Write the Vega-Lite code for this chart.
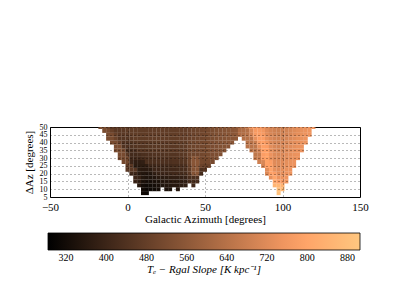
{
"$schema":"https://vega.github.io/schema/vega-lite/v6.json",
"width":310,"height":70,
"autosize":{"type":"none"},
"padding":{"left":50,"top":127,"right":40,"bottom":103},
"background":"white",
"config":{"view":{"stroke":"#000","strokeWidth":1},"font":"Liberation Serif"},
"data":{"values":[
{"a":10,"d":7.5,"v":315},{"a":12.5,"d":7.5,"v":310},
{"a":10,"d":10,"v":325},{"a":12.5,"d":10,"v":310},{"a":15,"d":10,"v":315},{"a":17.5,"d":10,"v":320},{"a":20,"d":10,"v":330},{"a":25,"d":10,"v":340},{"a":27.5,"d":10,"v":345},{"a":32.5,"d":10,"v":360},
{"a":7.5,"d":12.5,"v":360},{"a":10,"d":12.5,"v":325},{"a":12.5,"d":12.5,"v":315},{"a":15,"d":12.5,"v":320},{"a":17.5,"d":12.5,"v":325},{"a":20,"d":12.5,"v":335},{"a":22.5,"d":12.5,"v":345},{"a":25,"d":12.5,"v":350},{"a":27.5,"d":12.5,"v":355},{"a":30,"d":12.5,"v":360},{"a":32.5,"d":12.5,"v":360},{"a":35,"d":12.5,"v":370},{"a":37.5,"d":12.5,"v":380},{"a":42.5,"d":12.5,"v":410},
{"a":5,"d":15,"v":400},{"a":7.5,"d":15,"v":380},{"a":10,"d":15,"v":345},{"a":12.5,"d":15,"v":335},{"a":15,"d":15,"v":335},{"a":17.5,"d":15,"v":340},{"a":20,"d":15,"v":345},{"a":22.5,"d":15,"v":360},{"a":25,"d":15,"v":360},{"a":27.5,"d":15,"v":365},{"a":30,"d":15,"v":370},{"a":32.5,"d":15,"v":370},{"a":35,"d":15,"v":375},{"a":37.5,"d":15,"v":380},{"a":40,"d":15,"v":420},{"a":42.5,"d":15,"v":420},{"a":45,"d":15,"v":425},
{"a":5,"d":17.5,"v":400},{"a":7.5,"d":17.5,"v":390},{"a":10,"d":17.5,"v":355},{"a":12.5,"d":17.5,"v":345},{"a":15,"d":17.5,"v":345},{"a":17.5,"d":17.5,"v":350},{"a":20,"d":17.5,"v":365},{"a":22.5,"d":17.5,"v":365},{"a":25,"d":17.5,"v":370},{"a":27.5,"d":17.5,"v":375},{"a":30,"d":17.5,"v":380},{"a":32.5,"d":17.5,"v":380},{"a":35,"d":17.5,"v":385},{"a":37.5,"d":17.5,"v":390},{"a":40,"d":17.5,"v":425},{"a":42.5,"d":17.5,"v":430},{"a":45,"d":17.5,"v":435},
{"a":2.5,"d":20,"v":410},{"a":5,"d":20,"v":400},{"a":7.5,"d":20,"v":365},{"a":10,"d":20,"v":355},{"a":12.5,"d":20,"v":350},{"a":15,"d":20,"v":355},{"a":17.5,"d":20,"v":380},{"a":20,"d":20,"v":395},{"a":22.5,"d":20,"v":400},{"a":25,"d":20,"v":400},{"a":27.5,"d":20,"v":405},{"a":30,"d":20,"v":410},{"a":32.5,"d":20,"v":410},{"a":35,"d":20,"v":415},{"a":37.5,"d":20,"v":420},{"a":40,"d":20,"v":460},{"a":42.5,"d":20,"v":540},{"a":45,"d":20,"v":550},{"a":47.5,"d":20,"v":420},
{"a":0,"d":22.5,"v":460},{"a":2.5,"d":22.5,"v":460},{"a":5,"d":22.5,"v":450},{"a":7.5,"d":22.5,"v":370},{"a":10,"d":22.5,"v":365},{"a":12.5,"d":22.5,"v":365},{"a":15,"d":22.5,"v":370},{"a":17.5,"d":22.5,"v":400},{"a":20,"d":22.5,"v":400},{"a":22.5,"d":22.5,"v":405},{"a":25,"d":22.5,"v":405},{"a":27.5,"d":22.5,"v":410},{"a":30,"d":22.5,"v":410},{"a":32.5,"d":22.5,"v":415},{"a":35,"d":22.5,"v":420},{"a":37.5,"d":22.5,"v":425},{"a":40,"d":22.5,"v":470},{"a":42.5,"d":22.5,"v":540},{"a":45,"d":22.5,"v":550},{"a":47.5,"d":22.5,"v":430},{"a":50,"d":22.5,"v":450},
{"a":0,"d":25,"v":465},{"a":2.5,"d":25,"v":460},{"a":5,"d":25,"v":370},{"a":7.5,"d":25,"v":370},{"a":10,"d":25,"v":370},{"a":12.5,"d":25,"v":375},{"a":15,"d":25,"v":405},{"a":17.5,"d":25,"v":405},{"a":20,"d":25,"v":410},{"a":22.5,"d":25,"v":410},{"a":25,"d":25,"v":415},{"a":27.5,"d":25,"v":415},{"a":30,"d":25,"v":420},{"a":32.5,"d":25,"v":420},{"a":35,"d":25,"v":425},{"a":37.5,"d":25,"v":430},{"a":40,"d":25,"v":480},{"a":42.5,"d":25,"v":545},{"a":45,"d":25,"v":550},{"a":47.5,"d":25,"v":490},{"a":50,"d":25,"v":480},{"a":52.5,"d":25,"v":490},
{"a":-2.5,"d":27.5,"v":510},{"a":0,"d":27.5,"v":505},{"a":2.5,"d":27.5,"v":400},{"a":5,"d":27.5,"v":375},{"a":7.5,"d":27.5,"v":375},{"a":10,"d":27.5,"v":380},{"a":12.5,"d":27.5,"v":430},{"a":15,"d":27.5,"v":430},{"a":17.5,"d":27.5,"v":430},{"a":20,"d":27.5,"v":430},{"a":22.5,"d":27.5,"v":435},{"a":25,"d":27.5,"v":435},{"a":27.5,"d":27.5,"v":435},{"a":30,"d":27.5,"v":440},{"a":32.5,"d":27.5,"v":440},{"a":35,"d":27.5,"v":445},{"a":37.5,"d":27.5,"v":450},{"a":40,"d":27.5,"v":495},{"a":42.5,"d":27.5,"v":550},{"a":45,"d":27.5,"v":555},{"a":47.5,"d":27.5,"v":510},{"a":50,"d":27.5,"v":505},{"a":52.5,"d":27.5,"v":510},{"a":55,"d":27.5,"v":515},
{"a":-5,"d":30,"v":510},{"a":-2.5,"d":30,"v":510},{"a":0,"d":30,"v":500},{"a":2.5,"d":30,"v":410},{"a":5,"d":30,"v":410},{"a":7.5,"d":30,"v":410},{"a":10,"d":30,"v":420},{"a":12.5,"d":30,"v":430},{"a":15,"d":30,"v":430},{"a":17.5,"d":30,"v":435},{"a":20,"d":30,"v":435},{"a":22.5,"d":30,"v":440},{"a":25,"d":30,"v":440},{"a":27.5,"d":30,"v":440},{"a":30,"d":30,"v":445},{"a":32.5,"d":30,"v":445},{"a":35,"d":30,"v":450},{"a":37.5,"d":30,"v":455},{"a":40,"d":30,"v":490},{"a":42.5,"d":30,"v":550},{"a":45,"d":30,"v":545},{"a":47.5,"d":30,"v":507},{"a":50,"d":30,"v":512},{"a":52.5,"d":30,"v":517},{"a":55,"d":30,"v":523},{"a":57.5,"d":30,"v":528},
{"a":-5,"d":32.5,"v":515},{"a":-2.5,"d":32.5,"v":515},{"a":0,"d":32.5,"v":460},{"a":2.5,"d":32.5,"v":415},{"a":5,"d":32.5,"v":415},{"a":7.5,"d":32.5,"v":420},{"a":10,"d":32.5,"v":430},{"a":12.5,"d":32.5,"v":435},{"a":15,"d":32.5,"v":435},{"a":17.5,"d":32.5,"v":440},{"a":20,"d":32.5,"v":440},{"a":22.5,"d":32.5,"v":440},{"a":25,"d":32.5,"v":445},{"a":27.5,"d":32.5,"v":445},{"a":30,"d":32.5,"v":445},{"a":32.5,"d":32.5,"v":450},{"a":35,"d":32.5,"v":455},{"a":37.5,"d":32.5,"v":460},{"a":40,"d":32.5,"v":490},{"a":42.5,"d":32.5,"v":496},{"a":45,"d":32.5,"v":501},{"a":47.5,"d":32.5,"v":507},{"a":50,"d":32.5,"v":512},{"a":52.5,"d":32.5,"v":517},{"a":55,"d":32.5,"v":523},{"a":57.5,"d":32.5,"v":528},{"a":60,"d":32.5,"v":534},
{"a":-7.5,"d":35,"v":520},{"a":-5,"d":35,"v":520},{"a":-2.5,"d":35,"v":510},{"a":0,"d":35,"v":420},{"a":2.5,"d":35,"v":420},{"a":5,"d":35,"v":425},{"a":7.5,"d":35,"v":450},{"a":10,"d":35,"v":450},{"a":12.5,"d":35,"v":450},{"a":15,"d":35,"v":452},{"a":17.5,"d":35,"v":452},{"a":20,"d":35,"v":455},{"a":22.5,"d":35,"v":455},{"a":25,"d":35,"v":455},{"a":27.5,"d":35,"v":458},{"a":30,"d":35,"v":460},{"a":32.5,"d":35,"v":460},{"a":35,"d":35,"v":462},{"a":37.5,"d":35,"v":465},{"a":40,"d":35,"v":490},{"a":42.5,"d":35,"v":496},{"a":45,"d":35,"v":501},{"a":47.5,"d":35,"v":507},{"a":50,"d":35,"v":512},{"a":52.5,"d":35,"v":517},{"a":55,"d":35,"v":523},{"a":57.5,"d":35,"v":528},{"a":60,"d":35,"v":534},{"a":62.5,"d":35,"v":540},
{"a":-7.5,"d":37.5,"v":520},{"a":-5,"d":37.5,"v":520},{"a":-2.5,"d":37.5,"v":440},{"a":0,"d":37.5,"v":440},{"a":2.5,"d":37.5,"v":440},{"a":5,"d":37.5,"v":445},{"a":7.5,"d":37.5,"v":450},{"a":10,"d":37.5,"v":450},{"a":12.5,"d":37.5,"v":452},{"a":15,"d":37.5,"v":452},{"a":17.5,"d":37.5,"v":455},{"a":20,"d":37.5,"v":455},{"a":22.5,"d":37.5,"v":458},{"a":25,"d":37.5,"v":458},{"a":27.5,"d":37.5,"v":460},{"a":30,"d":37.5,"v":460},{"a":32.5,"d":37.5,"v":462},{"a":35,"d":37.5,"v":464},{"a":37.5,"d":37.5,"v":466},{"a":40,"d":37.5,"v":490},{"a":42.5,"d":37.5,"v":496},{"a":45,"d":37.5,"v":501},{"a":47.5,"d":37.5,"v":507},{"a":50,"d":37.5,"v":512},{"a":52.5,"d":37.5,"v":517},{"a":55,"d":37.5,"v":523},{"a":57.5,"d":37.5,"v":528},{"a":60,"d":37.5,"v":534},{"a":62.5,"d":37.5,"v":540},{"a":65,"d":37.5,"v":545},
{"a":-10,"d":40,"v":520},{"a":-7.5,"d":40,"v":520},{"a":-5,"d":40,"v":480},{"a":-2.5,"d":40,"v":440},{"a":0,"d":40,"v":440},{"a":2.5,"d":40,"v":442},{"a":5,"d":40,"v":450},{"a":7.5,"d":40,"v":452},{"a":10,"d":40,"v":454},{"a":12.5,"d":40,"v":455},{"a":15,"d":40,"v":456},{"a":17.5,"d":40,"v":458},{"a":20,"d":40,"v":458},{"a":22.5,"d":40,"v":460},{"a":25,"d":40,"v":460},{"a":27.5,"d":40,"v":462},{"a":30,"d":40,"v":462},{"a":32.5,"d":40,"v":464},{"a":35,"d":40,"v":465},{"a":37.5,"d":40,"v":467},{"a":40,"d":40,"v":490},{"a":42.5,"d":40,"v":496},{"a":45,"d":40,"v":501},{"a":47.5,"d":40,"v":507},{"a":50,"d":40,"v":512},{"a":52.5,"d":40,"v":517},{"a":55,"d":40,"v":523},{"a":57.5,"d":40,"v":528},{"a":60,"d":40,"v":534},{"a":62.5,"d":40,"v":540},{"a":65,"d":40,"v":545},{"a":67.5,"d":40,"v":550},
{"a":-12.5,"d":42.5,"v":520},{"a":-10,"d":42.5,"v":520},{"a":-7.5,"d":42.5,"v":490},{"a":-5,"d":42.5,"v":450},{"a":-2.5,"d":42.5,"v":450},{"a":0,"d":42.5,"v":450},{"a":2.5,"d":42.5,"v":455},{"a":5,"d":42.5,"v":470},{"a":7.5,"d":42.5,"v":470},{"a":10,"d":42.5,"v":470},{"a":12.5,"d":42.5,"v":471},{"a":15,"d":42.5,"v":471},{"a":17.5,"d":42.5,"v":472},{"a":20,"d":42.5,"v":472},{"a":22.5,"d":42.5,"v":473},{"a":25,"d":42.5,"v":473},{"a":27.5,"d":42.5,"v":474},{"a":30,"d":42.5,"v":474},{"a":32.5,"d":42.5,"v":475},{"a":35,"d":42.5,"v":475},{"a":37.5,"d":42.5,"v":475},{"a":40,"d":42.5,"v":485},{"a":42.5,"d":42.5,"v":490},{"a":45,"d":42.5,"v":495},{"a":47.5,"d":42.5,"v":500},{"a":50,"d":42.5,"v":506},{"a":52.5,"d":42.5,"v":512},{"a":55,"d":42.5,"v":520},{"a":57.5,"d":42.5,"v":527},{"a":60,"d":42.5,"v":534},{"a":62.5,"d":42.5,"v":540},{"a":65,"d":42.5,"v":546},{"a":67.5,"d":42.5,"v":551},{"a":70,"d":42.5,"v":556},
{"a":-12.5,"d":45,"v":520},{"a":-10,"d":45,"v":515},{"a":-7.5,"d":45,"v":480},{"a":-5,"d":45,"v":460},{"a":-2.5,"d":45,"v":460},{"a":0,"d":45,"v":460},{"a":2.5,"d":45,"v":470},{"a":5,"d":45,"v":470},{"a":7.5,"d":45,"v":470},{"a":10,"d":45,"v":470},{"a":12.5,"d":45,"v":471},{"a":15,"d":45,"v":471},{"a":17.5,"d":45,"v":472},{"a":20,"d":45,"v":472},{"a":22.5,"d":45,"v":473},{"a":25,"d":45,"v":473},{"a":27.5,"d":45,"v":474},{"a":30,"d":45,"v":474},{"a":32.5,"d":45,"v":475},{"a":35,"d":45,"v":475},{"a":37.5,"d":45,"v":475},{"a":40,"d":45,"v":485},{"a":42.5,"d":45,"v":490},{"a":45,"d":45,"v":495},{"a":47.5,"d":45,"v":500},{"a":50,"d":45,"v":506},{"a":52.5,"d":45,"v":512},{"a":55,"d":45,"v":520},{"a":57.5,"d":45,"v":527},{"a":60,"d":45,"v":534},{"a":62.5,"d":45,"v":540},{"a":65,"d":45,"v":546},{"a":67.5,"d":45,"v":551},{"a":70,"d":45,"v":556},
{"a":-15,"d":47.5,"v":520},{"a":-12.5,"d":47.5,"v":515},{"a":-10,"d":47.5,"v":485},{"a":-7.5,"d":47.5,"v":460},{"a":-5,"d":47.5,"v":460},{"a":-2.5,"d":47.5,"v":460},{"a":0,"d":47.5,"v":465},{"a":2.5,"d":47.5,"v":470},{"a":5,"d":47.5,"v":470},{"a":7.5,"d":47.5,"v":470},{"a":10,"d":47.5,"v":470},{"a":12.5,"d":47.5,"v":471},{"a":15,"d":47.5,"v":471},{"a":17.5,"d":47.5,"v":472},{"a":20,"d":47.5,"v":472},{"a":22.5,"d":47.5,"v":473},{"a":25,"d":47.5,"v":473},{"a":27.5,"d":47.5,"v":474},{"a":30,"d":47.5,"v":474},{"a":32.5,"d":47.5,"v":475},{"a":35,"d":47.5,"v":475},{"a":37.5,"d":47.5,"v":475},{"a":40,"d":47.5,"v":485},{"a":42.5,"d":47.5,"v":490},{"a":45,"d":47.5,"v":495},{"a":47.5,"d":47.5,"v":500},{"a":50,"d":47.5,"v":506},{"a":52.5,"d":47.5,"v":512},{"a":55,"d":47.5,"v":520},{"a":57.5,"d":47.5,"v":527},{"a":60,"d":47.5,"v":534},{"a":62.5,"d":47.5,"v":540},{"a":65,"d":47.5,"v":546},{"a":67.5,"d":47.5,"v":551},{"a":70,"d":47.5,"v":556},
{"a":-17.5,"d":50,"v":520},{"a":-15,"d":50,"v":520},{"a":-12.5,"d":50,"v":490},{"a":-10,"d":50,"v":460},{"a":-7.5,"d":50,"v":460},{"a":-5,"d":50,"v":460},{"a":-2.5,"d":50,"v":465},{"a":0,"d":50,"v":470},{"a":2.5,"d":50,"v":470},{"a":5,"d":50,"v":470},{"a":7.5,"d":50,"v":470},{"a":10,"d":50,"v":470},{"a":12.5,"d":50,"v":471},{"a":15,"d":50,"v":471},{"a":17.5,"d":50,"v":472},{"a":20,"d":50,"v":472},{"a":22.5,"d":50,"v":473},{"a":25,"d":50,"v":473},{"a":27.5,"d":50,"v":474},{"a":30,"d":50,"v":474},{"a":32.5,"d":50,"v":475},{"a":35,"d":50,"v":475},{"a":37.5,"d":50,"v":475},{"a":40,"d":50,"v":485},{"a":42.5,"d":50,"v":490},{"a":45,"d":50,"v":495},{"a":47.5,"d":50,"v":500},{"a":50,"d":50,"v":506},{"a":52.5,"d":50,"v":512},{"a":55,"d":50,"v":520},{"a":57.5,"d":50,"v":527},{"a":60,"d":50,"v":534},{"a":62.5,"d":50,"v":540},{"a":65,"d":50,"v":546},{"a":67.5,"d":50,"v":551},{"a":70,"d":50,"v":556},
{"a":97.5,"d":7.5,"v":885},
{"a":97.5,"d":10,"v":875},{"a":100,"d":10,"v":865},
{"a":95,"d":12.5,"v":845},{"a":97.5,"d":12.5,"v":855},{"a":100,"d":12.5,"v":840},
{"a":95,"d":15,"v":805},{"a":97.5,"d":15,"v":775},{"a":100,"d":15,"v":765},{"a":102.5,"d":15,"v":755},
{"a":92.5,"d":17.5,"v":735},{"a":95,"d":17.5,"v":795},{"a":97.5,"d":17.5,"v":745},{"a":100,"d":17.5,"v":745},{"a":102.5,"d":17.5,"v":750},
{"a":90,"d":20,"v":715},{"a":92.5,"d":20,"v":785},{"a":95,"d":20,"v":775},{"a":97.5,"d":20,"v":725},{"a":100,"d":20,"v":735},{"a":102.5,"d":20,"v":745},{"a":105,"d":20,"v":750},
{"a":90,"d":22.5,"v":725},{"a":92.5,"d":22.5,"v":790},{"a":95,"d":22.5,"v":735},{"a":97.5,"d":22.5,"v":720},{"a":100,"d":22.5,"v":730},{"a":102.5,"d":22.5,"v":740},{"a":105,"d":22.5,"v":745},
{"a":87.5,"d":25,"v":695},{"a":90,"d":25,"v":785},{"a":92.5,"d":25,"v":785},{"a":95,"d":25,"v":725},{"a":97.5,"d":25,"v":715},{"a":100,"d":25,"v":725},{"a":102.5,"d":25,"v":735},{"a":105,"d":25,"v":745},{"a":107.5,"d":25,"v":745},
{"a":85,"d":27.5,"v":685},{"a":87.5,"d":27.5,"v":705},{"a":90,"d":27.5,"v":790},{"a":92.5,"d":27.5,"v":775},{"a":95,"d":27.5,"v":720},{"a":97.5,"d":27.5,"v":715},{"a":100,"d":27.5,"v":720},{"a":102.5,"d":27.5,"v":730},{"a":105,"d":27.5,"v":740},{"a":107.5,"d":27.5,"v":745},
{"a":82.5,"d":30,"v":665},{"a":85,"d":30,"v":675},{"a":87.5,"d":30,"v":775},{"a":90,"d":30,"v":790},{"a":92.5,"d":30,"v":735},{"a":95,"d":30,"v":715},{"a":97.5,"d":30,"v":710},{"a":100,"d":30,"v":715},{"a":102.5,"d":30,"v":725},{"a":105,"d":30,"v":735},{"a":107.5,"d":30,"v":740},{"a":110,"d":30,"v":745},
{"a":82.5,"d":32.5,"v":655},{"a":85,"d":32.5,"v":665},{"a":87.5,"d":32.5,"v":775},{"a":90,"d":32.5,"v":790},{"a":92.5,"d":32.5,"v":745},{"a":95,"d":32.5,"v":715},{"a":97.5,"d":32.5,"v":705},{"a":100,"d":32.5,"v":710},{"a":102.5,"d":32.5,"v":720},{"a":105,"d":32.5,"v":730},{"a":107.5,"d":32.5,"v":740},{"a":110,"d":32.5,"v":745},
{"a":80,"d":35,"v":650},{"a":82.5,"d":35,"v":655},{"a":85,"d":35,"v":695},{"a":87.5,"d":35,"v":780},{"a":90,"d":35,"v":785},{"a":92.5,"d":35,"v":735},{"a":95,"d":35,"v":710},{"a":97.5,"d":35,"v":700},{"a":100,"d":35,"v":705},{"a":102.5,"d":35,"v":715},{"a":105,"d":35,"v":725},{"a":107.5,"d":35,"v":735},{"a":110,"d":35,"v":740},{"a":112.5,"d":35,"v":745},
{"a":77.5,"d":37.5,"v":645},{"a":80,"d":37.5,"v":645},{"a":82.5,"d":37.5,"v":655},{"a":85,"d":37.5,"v":735},{"a":87.5,"d":37.5,"v":780},{"a":90,"d":37.5,"v":775},{"a":92.5,"d":37.5,"v":725},{"a":95,"d":37.5,"v":705},{"a":97.5,"d":37.5,"v":695},{"a":100,"d":37.5,"v":700},{"a":102.5,"d":37.5,"v":710},{"a":105,"d":37.5,"v":720},{"a":107.5,"d":37.5,"v":730},{"a":110,"d":37.5,"v":740},{"a":112.5,"d":37.5,"v":745},
{"a":77.5,"d":40,"v":640},{"a":80,"d":40,"v":645},{"a":82.5,"d":40,"v":675},{"a":85,"d":40,"v":765},{"a":87.5,"d":40,"v":780},{"a":90,"d":40,"v":755},{"a":92.5,"d":40,"v":715},{"a":95,"d":40,"v":700},{"a":97.5,"d":40,"v":690},{"a":100,"d":40,"v":695},{"a":102.5,"d":40,"v":705},{"a":105,"d":40,"v":715},{"a":107.5,"d":40,"v":725},{"a":110,"d":40,"v":735},{"a":112.5,"d":40,"v":743},{"a":115,"d":40,"v":747},
{"a":75,"d":42.5,"v":635},{"a":77.5,"d":42.5,"v":640},{"a":80,"d":42.5,"v":645},{"a":82.5,"d":42.5,"v":735},{"a":85,"d":42.5,"v":775},{"a":87.5,"d":42.5,"v":775},{"a":90,"d":42.5,"v":735},{"a":92.5,"d":42.5,"v":710},{"a":95,"d":42.5,"v":695},{"a":97.5,"d":42.5,"v":687},{"a":100,"d":42.5,"v":690},{"a":102.5,"d":42.5,"v":700},{"a":105,"d":42.5,"v":710},{"a":107.5,"d":42.5,"v":723},{"a":110,"d":42.5,"v":733},{"a":112.5,"d":42.5,"v":741},{"a":115,"d":42.5,"v":747},
{"a":72.5,"d":45,"v":625},{"a":75,"d":45,"v":630},{"a":77.5,"d":45,"v":640},{"a":80,"d":45,"v":695},{"a":82.5,"d":45,"v":765},{"a":85,"d":45,"v":775},{"a":87.5,"d":45,"v":765},{"a":90,"d":45,"v":725},{"a":92.5,"d":45,"v":705},{"a":95,"d":45,"v":690},{"a":97.5,"d":45,"v":683},{"a":100,"d":45,"v":685},{"a":102.5,"d":45,"v":695},{"a":105,"d":45,"v":705},{"a":107.5,"d":45,"v":720},{"a":110,"d":45,"v":730},{"a":112.5,"d":45,"v":739},{"a":115,"d":45,"v":745},{"a":117.5,"d":45,"v":750},
{"a":72.5,"d":47.5,"v":620},{"a":75,"d":47.5,"v":625},{"a":77.5,"d":47.5,"v":635},{"a":80,"d":47.5,"v":705},{"a":82.5,"d":47.5,"v":765},{"a":85,"d":47.5,"v":770},{"a":87.5,"d":47.5,"v":755},{"a":90,"d":47.5,"v":720},{"a":92.5,"d":47.5,"v":700},{"a":95,"d":47.5,"v":687},{"a":97.5,"d":47.5,"v":680},{"a":100,"d":47.5,"v":683},{"a":102.5,"d":47.5,"v":693},{"a":105,"d":47.5,"v":703},{"a":107.5,"d":47.5,"v":717},{"a":110,"d":47.5,"v":727},{"a":112.5,"d":47.5,"v":737},{"a":115,"d":47.5,"v":743},{"a":117.5,"d":47.5,"v":749},
{"a":72.5,"d":50,"v":615},{"a":75,"d":50,"v":623},{"a":77.5,"d":50,"v":675},{"a":80,"d":50,"v":755},{"a":82.5,"d":50,"v":770},{"a":85,"d":50,"v":765},{"a":87.5,"d":50,"v":745},{"a":90,"d":50,"v":715},{"a":92.5,"d":50,"v":697},{"a":95,"d":50,"v":685},{"a":97.5,"d":50,"v":677},{"a":100,"d":50,"v":680},{"a":102.5,"d":50,"v":690},{"a":105,"d":50,"v":700},{"a":107.5,"d":50,"v":715},{"a":110,"d":50,"v":725},{"a":112.5,"d":50,"v":735},{"a":115,"d":50,"v":741},{"a":117.5,"d":50,"v":747},{"a":120,"d":50,"v":751}
]},
"mark":{"type":"rect","width":4,"height":4,"clip":true},
"encoding":{
"x":{"field":"a","type":"quantitative","scale":{"domain":[-50,150],"nice":false,"zero":false},
"axis":{"values":[-50,0,50,100,150],"title":"Galactic Azimuth [degrees]","grid":true,"gridDash":[1,3],"gridColor":"#000","gridOpacity":0.55,"domain":false,"ticks":false,"labelPadding":4,"labelFontSize":11,"labelColor":"#000","labelFlush":false,"titleFontSize":11,"titleFontWeight":"normal","titleColor":"#000","titlePadding":1,"zindex":1}},
"y":{"field":"d","type":"quantitative","scale":{"domain":[5,50],"nice":false,"zero":false},
"axis":{"values":[5,10,15,20,25,30,35,40,45,50],"title":"ΔAz [degrees]","grid":true,"gridDash":[1,3],"gridColor":"#000","gridOpacity":0.55,"domain":false,"ticks":false,"labelPadding":3,"labelFontSize":8,"labelColor":"#000","labelOverlap":false,"labelFlush":false,"titleFontSize":11,"titleFontWeight":"normal","titleColor":"#000","titlePadding":5,"zindex":1}},
"color":{"field":"v","type":"quantitative","scale":{"domain":[284,781,905],"range":["#000000","#ff9f65","#ffc77f"],"interpolate":"rgb"},
"legend":{"orient":"none","legendX":-2,"legendY":106,"direction":"horizontal","gradientLength":312,"gradientThickness":17,"gradientStrokeColor":"#000","gradientStrokeWidth":0.8,"values":[320,400,480,560,640,720,800,880],"labelFontSize":10,"labelColor":"#000","labelOffset":3,"title":"Tₑ − Rgal Slope [K kpc⁻¹]","titleOrient":"bottom","titleAnchor":"middle","titleFontSize":11,"titleFontWeight":"normal","titleFontStyle":"italic","titleColor":"#000","titlePadding":1}}
}
}
